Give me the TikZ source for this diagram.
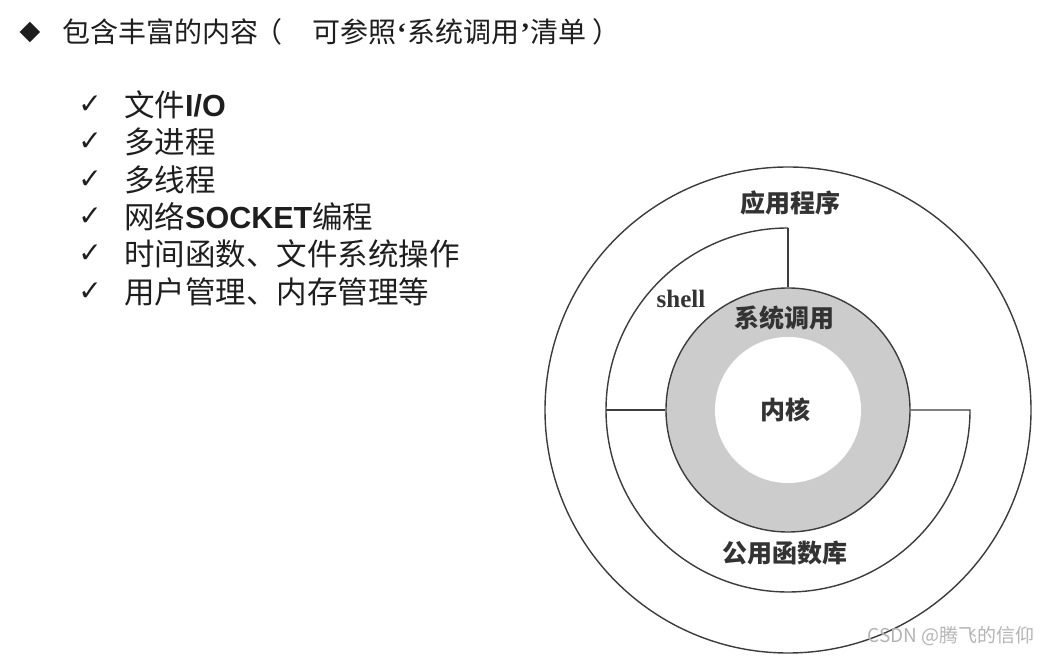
\documentclass[tikz,border=0pt]{standalone}
\usepackage{fontspec}
\setmainfont{Liberation Serif}
\setsansfont{Liberation Sans}
\newfontfamily\cjk{Noto Sans CJK SC}
\newfontfamily\symf{DejaVu Sans}
\definecolor{txt}{HTML}{1E1E1E}
\definecolor{lbl}{HTML}{333333}
\definecolor{ln}{HTML}{3C3C3C}
\definecolor{ring}{HTML}{CCCCCC}
\definecolor{wm}{HTML}{B4B4B4}
\tikzset{
  listtxt/.style={anchor=west,inner sep=0pt,text=txt,font=\cjk\fontsize{30.5}{34}\selectfont},
  chk/.style={inner sep=0pt,text=txt,font=\symf\fontsize{28}{30}\selectfont},
  lab/.style={inner sep=0pt,text=lbl,font=\cjk\bfseries\fontsize{25}{28}\selectfont},
  bd/.style={draw=ln,line width=1.4pt},
}
\begin{document}
\begin{tikzpicture}[x=1pt,y=1pt]
\useasboundingbox[fill=white] (0,0) rectangle (1049,656);
% title
\node[chk,font=\symf\fontsize{27}{30}\selectfont] (dia) at (30,624) {◆};
\node[listtxt,font=\cjk\fontsize{28}{32}\selectfont] (title) at (62,624) {包含丰富的内容\hspace{-4pt}（\hspace{30pt}可参照{\rmfamily\bfseries\hspace{1pt}‘\hspace{1pt}}系统调用{\rmfamily\bfseries\hspace{1pt}’\hspace{1pt}}清单\hspace{6pt}）};
% list
\foreach \i/\yy in {1/551,2/514,3/476,4/439,5/402,6/364}{
  \node[chk] (c\i) at (90,\yy) {✓};
}
\node[listtxt] (t1) at (124,551) {文件{\sffamily\bfseries I/O}};
\node[listtxt] (t2) at (124,514) {多进程};
\node[listtxt] (t3) at (124,476) {多线程};
\node[listtxt] (t4) at (124,439) {网络{\sffamily\bfseries SOCKET}编程};
\node[listtxt] (t5) at (124,402) {时间函数、文件系统操作};
\node[listtxt] (t6) at (124,364) {用户管理、内存管理等};
% diagram
\coordinate (C) at (788,246);
\node[circle,bd,minimum size=486pt,inner sep=0pt] (outer) at (C) {};
\node[circle,bd,fill=ring,minimum size=244pt,inner sep=0pt] (sys) at (C) {};
\node[circle,fill=white,minimum size=146pt,inner sep=0pt] (kern) at (C) {};
\coordinate (top) at (788,428);
\coordinate (rgt) at (970,246);
\coordinate (lft) at (606,246);
\draw[bd] (top) arc[start angle=90,end angle=360,radius=182pt] -- (sys.east);
\draw[bd] (top) -- (sys.north);
\draw[bd] (lft) -- (sys.west);
% labels
\node[lab] (app) at (790,453) {应用程序};
\node[inner sep=0pt,text=lbl,font=\bfseries\fontsize{25}{28}\selectfont] (sh) at (681,357) {shell};
\node[lab] (sc) at (784,338) {系统调用};
\node[lab] (nk) at (785,246) {内核};
\node[lab] (lib) at (785,103) {公用函数库};
\node[inner sep=0pt,text=wm,font=\cjk\fontsize{19}{22}\selectfont,anchor=east] (wmk) at (1035,20) {CSDN @腾飞的信仰};
\end{tikzpicture}
\end{document}
